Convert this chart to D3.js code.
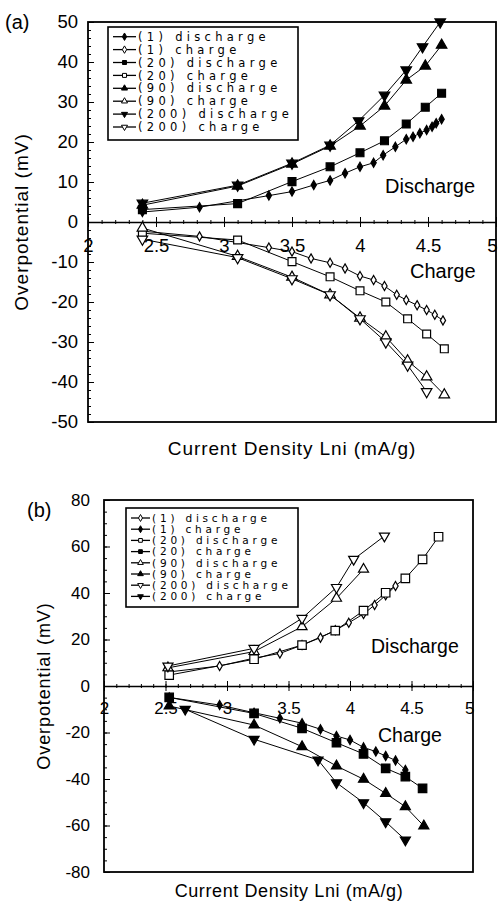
<!DOCTYPE html>
<html>
<head>
<meta charset="utf-8">
<script src="https://cdn.jsdelivr.net/npm/d3@7"></script>
<style>
  body { margin: 0; background: #fff; }
  svg { display: block; }
</style>
</head>
<body>
<svg id="chart" width="498" height="903"></svg>
<script>
// ---- data: [ln i, overpotential mV] ----
// panel (a)
const a1Dis   = [[2.4,2.5],[2.82,3.7],[3.33,6.6],[3.5,7.6],[3.66,9.25],[3.78,10.4],[3.89,12.2],[4.0,13.8],[4.1,14.8],[4.17,16.7],[4.26,18.8],[4.34,20.7],[4.39,21.3],[4.44,22.2],[4.49,23],[4.53,23.8],[4.56,24.7],[4.6,25.7]];
const a1Chg   = [[2.4,-2.3],[2.82,-3.6],[3.33,-6.4],[3.5,-7.4],[3.64,-9.1],[3.78,-10.2],[3.89,-11.6],[4.0,-13.5],[4.1,-14.5],[4.18,-16],[4.27,-18.2],[4.34,-19.5],[4.42,-20.8],[4.49,-22],[4.55,-23.2],[4.61,-24.6]];
const a20Dis  = [[2.4,3.1],[3.1,4.6],[3.5,10.1],[3.78,13.8],[4.0,17.3],[4.18,20.3],[4.34,24.5],[4.48,28.7],[4.6,32.2]];
const a20Chg  = [[2.4,-2.8],[3.1,-4.5],[3.5,-9.9],[3.78,-13.7],[4.0,-17.2],[4.19,-20],[4.35,-24.2],[4.49,-28],[4.62,-31.7]];
const a90Dis  = [[2.4,4.2],[3.1,9],[3.5,14.5],[3.78,19],[4.0,24],[4.18,29],[4.34,35.5],[4.48,39],[4.6,44.2]];
const a90Chg  = [[2.4,-1.5],[3.1,-8.6],[3.5,-13.8],[3.78,-18.2],[4.0,-24],[4.19,-28.7],[4.35,-34.7],[4.49,-38.7],[4.62,-43.2]];
const a200Dis = [[2.4,4.7],[3.1,9.2],[3.5,14.7],[3.78,19.2],[3.99,25.3],[4.18,31.7],[4.34,38],[4.46,43.8],[4.59,50]];
const a200Chg = [[2.4,-4.3],[3.1,-8.9],[3.5,-14.2],[3.78,-18.2],[4.0,-24.2],[4.19,-30],[4.35,-35.8],[4.49,-42.4]];

// panel (b)
const b1Dis   = [[2.52,6],[2.94,8.6],[3.22,12],[3.43,14],[3.61,17.6],[3.76,20.8],[3.88,24],[3.99,27.2],[4.11,31],[4.2,34.8],[4.29,39],[4.37,43]];
const b1Chg   = [[2.53,-4.9],[2.94,-8.2],[3.22,-11.5],[3.43,-13.9],[3.61,-16],[3.76,-18.6],[3.89,-21.5],[4.0,-23.2],[4.11,-26.4],[4.21,-28.2],[4.29,-30.1],[4.37,-32],[4.45,-36.1]];
const b20Dis  = [[2.53,4.7],[3.22,11.5],[3.61,17.6],[3.88,23.8],[4.11,32.4],[4.29,40.1],[4.45,46.3],[4.59,54.5],[4.72,64.2]];
const b20Chg  = [[2.53,-4.9],[3.22,-11.8],[3.61,-18.2],[3.89,-24.4],[4.11,-29.2],[4.29,-35.4],[4.45,-39],[4.59,-44]];
const b90Dis  = [[2.52,7.8],[3.22,14.8],[3.61,25.5],[3.89,37.7],[4.11,50.2]];
const b90Chg  = [[2.53,-8.6],[3.22,-16.8],[3.61,-26.1],[3.89,-34.4],[4.11,-40.1],[4.29,-46.2],[4.45,-51.9],[4.6,-60.2]];
const b200Dis = [[2.52,8.6],[3.22,16.2],[3.61,29.1],[3.89,42.4],[4.03,54.5],[4.28,64.5]];
const b200Chg = [[2.66,-10],[3.22,-22.9],[3.74,-31.8],[3.89,-41.6],[4.11,-50.2],[4.29,-58.4],[4.45,-66.2]];

const seriesNames  = ["(1) discharge","(1) charge","(20) discharge","(20) charge","(90) discharge","(90) charge","(200) discharge","(200) charge"];
const seriesShapes = ["diamond","diamond","square","square","triangle","triangle","triangleDown","triangleDown"];
const filledA = [true,false,true,false,true,false,true,false];
const filledB = [false,true,false,true,false,true,false,true];

const xTicks  = [2, 2.5, 3, 3.5, 4, 4.5, 5];
const yTicksA = [-50,-40,-30,-20,-10,0,10,20,30,40,50];
const yTicksB = [-80,-60,-40,-20,0,20,40,60,80];

const svg = d3.select("#chart");
const FONT = "'Liberation Sans', Arial, Helvetica, sans-serif";

function symbolPath(shape, size) {
  if (shape === "square") return d3.symbol(d3.symbolSquare, size)();
  if (shape === "diamond") return d3.symbol(d3.symbolDiamond, size)();
  return d3.symbol(d3.symbolTriangle, size)();
}

function drawPanel(p) {
  const x = d3.scaleLinear().domain([2, 5]).range([p.left, p.right]);
  const y = d3.scaleLinear().domain(p.yDomain).range([p.bottom, p.top]);
  const g = svg.append("g");

  // y minor + major ticks pointing inward
  g.append("g")
    .attr("transform", `translate(${p.left},0)`)
    .call(d3.axisLeft(y).tickValues(p.yMinor).tickSize(-3).tickFormat(""))
    .call(s => s.select(".domain").remove());
  const ya = g.append("g")
    .attr("transform", `translate(${p.left},0)`)
    .call(d3.axisLeft(y).tickValues(p.yTicks).tickSize(-6).tickPadding(p.yPad).tickFormat(d => String(d)));
  ya.select(".domain").remove();
  ya.attr("font-family", FONT).attr("font-size", p.tickFont);

  // x axis on the zero line, ticks crossing it
  g.append("g")
    .attr("transform", `translate(0,${y(0)})`)
    .call(d3.axisBottom(x).tickValues(p.xMinor).tickSize(2).tickSizeOuter(0).tickFormat(""))
    .call(s => s.select(".domain").remove())
    .call(s => s.selectAll(".tick line").attr("y1", -2));
  const xa = g.append("g")
    .attr("transform", `translate(0,${y(0)})`)
    .call(d3.axisBottom(x).tickValues(xTicks).tickSize(5).tickSizeOuter(0).tickPadding(p.xPad).tickFormat(d => String(d)));
  xa.selectAll(".tick line").attr("y1", -5);
  xa.select(".domain").attr("stroke-width", 1.6);
  xa.attr("font-family", FONT).attr("font-size", p.tickFont);
  // last label sits on the right frame, nudge it inside a little
  xa.selectAll(".tick text").filter(d => d === 5).attr("text-anchor", "end").attr("x", 1);

  // frame
  g.append("rect")
    .attr("x", p.left).attr("y", p.top)
    .attr("width", p.right - p.left).attr("height", p.bottom - p.top)
    .attr("fill", "none").attr("stroke", "#000").attr("stroke-width", 1.8);

  const line = d3.line().x(d => x(d[0])).y(d => y(d[1]));

  // lines
  p.series.forEach(s => {
    g.append("path").datum(s).attr("d", line)
      .attr("fill", "none").attr("stroke", "#000").attr("stroke-width", 1);
  });

  // markers
  p.series.forEach((s, i) => {
    const shape = seriesShapes[i];
    const filled = p.filled[i];
    const size = p.sizes[shape];
    g.selectAll(null).data(s).join("path")
      .attr("d", symbolPath(shape, size))
      .attr("transform", d => `translate(${x(d[0])},${y(d[1])})` + (shape === "triangleDown" ? " rotate(180)" : ""))
      .attr("fill", filled ? "#000" : "#fff")
      .attr("stroke", "#000")
      .attr("stroke-width", 1.2);
  });

  // legend
  const L = p.legend;
  g.append("rect")
    .attr("x", L.x).attr("y", L.y).attr("width", L.w).attr("height", L.h)
    .attr("fill", "#fff").attr("stroke", "#000").attr("stroke-width", 1.6);
  seriesNames.forEach((name, i) => {
    const cy = L.row0 + i * L.step;
    g.append("line")
      .attr("x1", L.lx0).attr("x2", L.lx1).attr("y1", cy).attr("y2", cy)
      .attr("stroke", "#000").attr("stroke-width", 1.3);
    const shape = seriesShapes[i];
    g.append("path")
      .attr("d", symbolPath(shape, L.symSize))
      .attr("transform", `translate(${(L.lx0 + L.lx1) / 2},${cy})` + (shape === "triangleDown" ? " rotate(180)" : ""))
      .attr("fill", p.filled[i] ? "#000" : "#fff")
      .attr("stroke", "#000").attr("stroke-width", 1);
    g.append("text")
      .attr("x", L.tx).attr("y", cy).attr("dy", "0.36em")
      .attr("font-family", "'DejaVu Sans', sans-serif")
      .attr("font-size", L.font)
      .attr("letter-spacing", L.spacing)
      .text(name);
  });

  // annotations
  const txt = (t, tx, ty, fs, extra) => {
    const el = g.append("text").attr("x", tx).attr("y", ty)
      .attr("font-family", FONT).attr("font-size", fs).text(t);
    if (extra) extra(el);
    return el;
  };
  txt(p.tag, p.tagX, p.tagY, 20);
  txt("Discharge", p.disX, p.disY, p.noteFont);
  txt("Charge", p.chgX, p.chgY, p.noteFont);
  txt("Current Density Lni (mA/g)", p.xLabelX, p.xLabelY, p.xLabelFont, e => e
    .attr("text-anchor", "middle").attr("letter-spacing", p.xLabelLs));
  txt("Overpotential (mV)", 0, 0, p.yLabelFont, e => e
    .attr("text-anchor", "middle").attr("letter-spacing", p.yLabelLs)
    .attr("transform", `translate(${p.yLabelX},${p.yLabelY}) rotate(-90)`));
}

drawPanel({
  left: 88, right: 496, top: 22, bottom: 422,
  yDomain: [-50, 50], yTicks: yTicksA, yMinor: d3.range(-50, 51, 2),
  xMinor: d3.range(20, 51).map(v => v / 10),
  yPad: 10, xPad: 12, tickFont: 18.5,
  series: [a1Dis, a1Chg, a20Dis, a20Chg, a90Dis, a90Chg, a200Dis, a200Chg],
  filled: filledA,
  sizes: { diamond: 24, square: 62, triangle: 48, triangleDown: 48 },
  legend: { x: 108, y: 27, w: 190, h: 113, row0: 36.7, step: 12.9,
            lx0: 113, lx1: 136, tx: 138, font: 11.5, spacing: 4.3, symSize: 16 },
  tag: "(a)", tagX: 5, tagY: 29,
  disX: 385, disY: 193, chgX: 410, chgY: 278, noteFont: 20,
  xLabelX: 292, xLabelY: 455, xLabelFont: 19, xLabelLs: 0.9,
  yLabelX: 28, yLabelY: 222, yLabelFont: 19, yLabelLs: 1
});

drawPanel({
  left: 104, right: 473, top: 500, bottom: 872,
  yDomain: [-80, 80], yTicks: yTicksB, yMinor: d3.range(-80, 81, 5),
  xMinor: d3.range(20, 51).map(v => v / 10),
  yPad: 14, xPad: 11, tickFont: 17,
  series: [b1Dis, b1Chg, b20Dis, b20Chg, b90Dis, b90Chg, b200Dis, b200Chg],
  filled: filledB,
  sizes: { diamond: 24, square: 72, triangle: 44, triangleDown: 44 },
  legend: { x: 126, y: 508, w: 172, h: 99, row0: 518, step: 11.2,
            lx0: 131, lx1: 150, tx: 152, font: 10.5, spacing: 3.8, symSize: 14 },
  tag: "(b)", tagX: 27, tagY: 517,
  disX: 371, disY: 653, chgX: 378, chgY: 742, noteFont: 19.5,
  xLabelX: 289, xLabelY: 897, xLabelFont: 18, xLabelLs: 0.6,
  yLabelX: 50, yLabelY: 686, yLabelFont: 18, yLabelLs: 0.9
});
</script>
</body>
</html>
